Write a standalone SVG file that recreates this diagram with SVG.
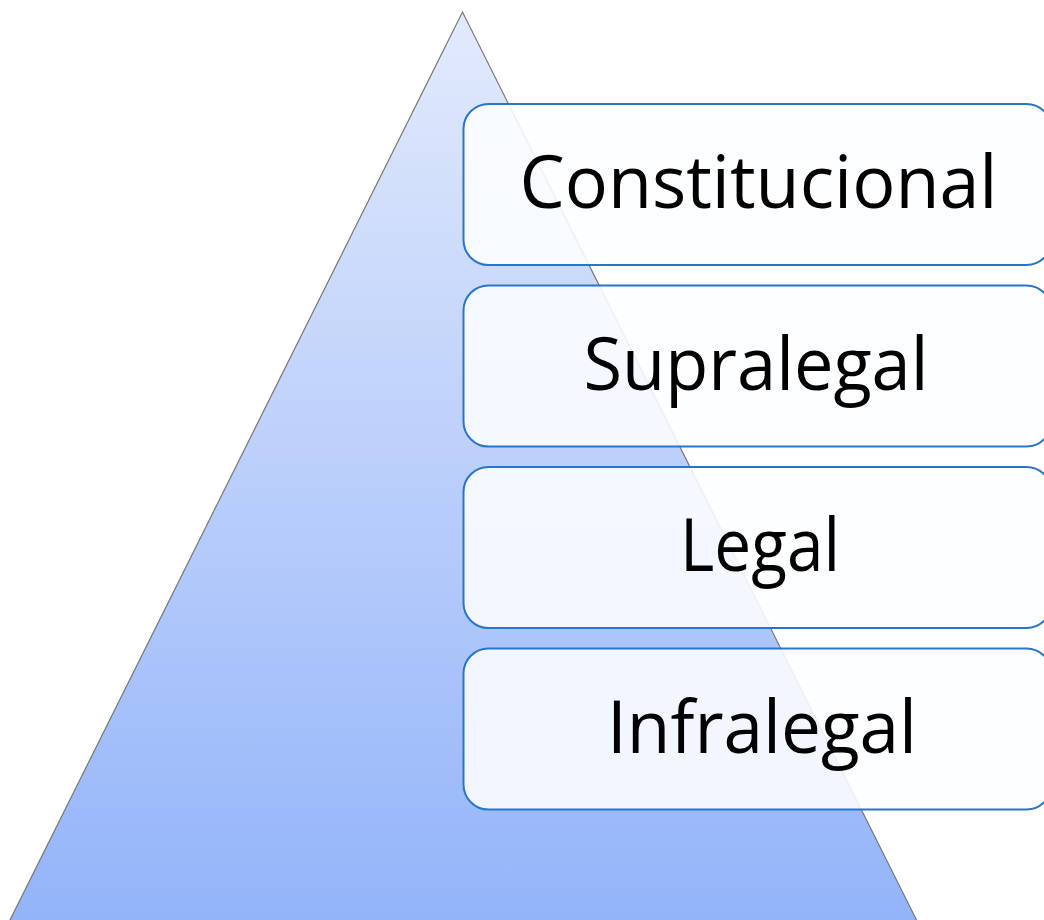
<svg xmlns="http://www.w3.org/2000/svg" width="1044" height="920" viewBox="0 0 1044 920">
  <defs>
    <linearGradient id="pyramidFill" x1="0" y1="12" x2="0" y2="920" gradientUnits="userSpaceOnUse">
      <stop offset="0" stop-color="#e2eafc"/>
      <stop offset="1" stop-color="#93b4f9"/>
    </linearGradient>
    <style>
      .level rect { fill: #fdfeff; fill-opacity: 0.87; stroke: #2a74c9; stroke-width: 2; }
      .level text { font-family: "Open Sans", "Liberation Sans", sans-serif; font-size: 73px; fill: #000; text-anchor: middle; }
    </style>
  </defs>
  <rect width="1044" height="920" fill="#ffffff"/>

  <!-- pyramid -->
  <g id="pyramid">
    <polygon points="462.5,12 9.5,921 917,921" fill="url(#pyramidFill)" stroke="#777777" stroke-width="1.2"/>
  </g>

  <!-- hierarchy levels -->
  <g id="constitucional" class="level">
    <rect x="463.5" y="104" width="588" height="161" rx="25" ry="25"/>
    <text x="758.5" y="208" textLength="478" lengthAdjust="spacingAndGlyphs">Constitucional</text>
  </g>
  <g id="supralegal" class="level">
    <rect x="463.5" y="285.5" width="588" height="161" rx="25" ry="25"/>
    <text x="756" y="390" textLength="345" lengthAdjust="spacingAndGlyphs">Supralegal</text>
  </g>
  <g id="legal" class="level">
    <rect x="463.5" y="467" width="588" height="161" rx="25" ry="25"/>
    <text x="760" y="571" textLength="160" lengthAdjust="spacingAndGlyphs">Legal</text>
  </g>
  <g id="infralegal" class="level">
    <rect x="463.5" y="648.5" width="588" height="161" rx="25" ry="25"/>
    <text x="762" y="753" textLength="310" lengthAdjust="spacingAndGlyphs">Infralegal</text>
  </g>

  <g id="connectors"/>
</svg>
